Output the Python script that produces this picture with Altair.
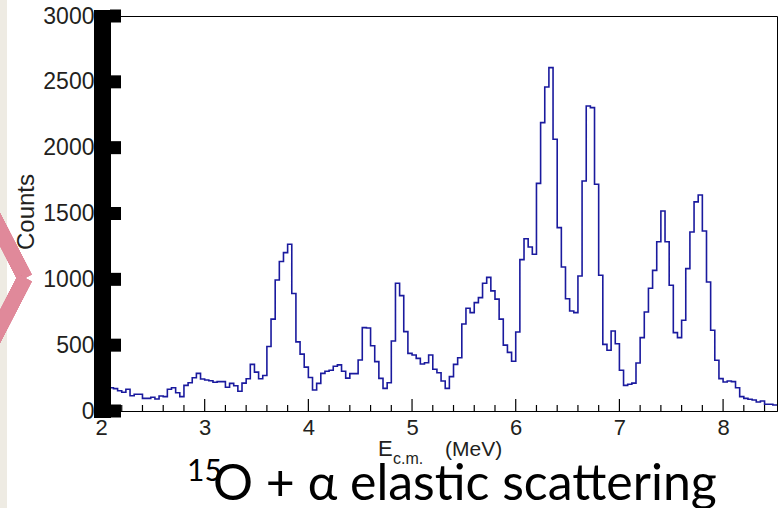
import altair as alt
import pandas as pd

# ---- data (0.04 MeV bins starting at 2.00 MeV) ----
bin_start = 2.0
bin_width = 0.04
counts = [
    170, 175, 177, 170, 154, 142, 165, 116, 127, 127,
    96, 96, 104, 91, 114, 109, 165, 177, 139, 109,
    195, 215, 253, 286, 243, 235, 230, 218, 223, 223,
    180, 210, 192, 150, 212, 245, 354, 295, 245, 270,
    490, 698, 995, 1136, 1203, 1266, 892, 525, 432, 333,
    255, 160, 210, 286, 302, 310, 340, 350, 302, 250,
    284, 284, 387, 633, 630, 496, 375, 248, 172, 215,
    532, 970, 876, 603, 438, 425, 400, 357, 367, 425,
    317, 291, 228, 172, 261, 354, 405, 661, 780, 747,
    823, 861, 970, 1015, 912, 850, 698, 500, 445, 378,
    600, 1150, 1308, 1246, 1190, 1729, 2190, 2461, 2608, 2064,
    1393, 1094, 853, 760, 747, 1025, 1747, 2317, 2304, 1722,
    1031, 506, 461, 608, 511, 309, 195, 203, 212, 365,
    557, 752, 932, 1068, 1286, 1519, 1286, 955, 595, 557,
    689, 1081, 1360, 1588, 1641, 1367, 980, 613, 385, 246,
    220, 228, 223, 177, 109, 96, 89, 84, 68, 76,
    51, 51, 46,
]
x_domain = [2.0, 8.52]
y_domain = [0, 3000]
x_major_ticks = [2, 3, 4, 5, 6, 7, 8]
x_minor_ticks = [2.2, 2.4, 2.6, 2.8, 3.2, 3.4, 3.6, 3.8, 4.2, 4.4, 4.6, 4.8,
                 5.2, 5.4, 5.6, 5.8, 6.2, 6.4, 6.6, 6.8, 7.2, 7.4, 7.6, 7.8,
                 8.2, 8.4]
y_ticks = [0, 500, 1000, 1500, 2000, 2500, 3000]

edges = [round(bin_start + i * bin_width, 4) for i in range(len(counts) + 1)]
hist = pd.DataFrame({"E": edges, "Counts": counts + [counts[-1]]})
major_df = pd.DataFrame({"E": x_major_ticks})
minor_df = pd.DataFrame({"E": x_minor_ticks})
yt_df = pd.DataFrame({"v": y_ticks})

W, H = 676, 395
TXT = "#231F20"
xs = alt.Scale(domain=x_domain, nice=False, zero=False)
ys = alt.Scale(domain=y_domain, nice=False)

line = alt.Chart(hist).mark_line(
    interpolate="step-after", color="#1A1A9E", strokeWidth=1.6, clip=True
).encode(
    x=alt.X("E:Q", scale=xs, axis=alt.Axis(
        values=x_major_ticks, ticks=False, grid=False, domain=True,
        domainColor="black", domainWidth=1, labelFont="Liberation Sans",
        labelFontSize=22, labelColor=TXT, labelPadding=6, title=None,
        labelFlush=False, format="d")),
    y=alt.Y("Counts:Q", scale=ys, axis=alt.Axis(
        values=y_ticks, ticks=False, grid=False, domain=False,
        labelFont="Liberation Sans", labelFontSize=23, labelColor=TXT,
        labelPadding=7, title=None, labelFlush=False, format="d")),
)

major = alt.Chart(major_df).mark_rule(color="black", strokeWidth=1.2).encode(
    x=alt.X("E:Q", scale=xs), y=alt.value(H), y2=alt.value(H - 12))
minor = alt.Chart(minor_df).mark_rule(color="black", strokeWidth=1.2).encode(
    x=alt.X("E:Q", scale=xs), y=alt.value(H), y2=alt.value(H - 6))

# slide decorations on the left
beige = alt.Chart(major_df).mark_rect(color="#EEEBE3").encode(
    x=alt.value(-101), x2=alt.value(-94), y=alt.value(-16), y2=alt.value(492))
chev1 = alt.Chart(major_df).mark_rule(color="#E0899A", strokeWidth=15, strokeCap="butt").encode(
    x=alt.value(-110), y=alt.value(196), x2=alt.value(-76), y2=alt.value(262))
chev2 = alt.Chart(major_df).mark_rule(color="#E0899A", strokeWidth=15, strokeCap="butt").encode(
    x=alt.value(-110), y=alt.value(328), x2=alt.value(-76), y2=alt.value(262))

# thick y axis bar with square ticks
ybar = alt.Chart(major_df).mark_rect(color="black").encode(
    x=alt.value(-7), x2=alt.value(10), y=alt.value(-6), y2=alt.value(402))
yticks = alt.Chart(yt_df).mark_rule(color="black", strokeWidth=13, strokeCap="butt").encode(
    y=alt.Y("v:Q", scale=ys), x=alt.value(9), x2=alt.value(20))

def txt(s, x, y, size, font="Liberation Sans", align="left", angle=None, baseline="alphabetic"):
    kw = dict(text=s, fontSize=size, font=font, color=TXT if font == "Liberation Sans" else "black",
              align=align, baseline=baseline)
    if angle is not None:
        kw["angle"] = angle
    return alt.Chart(major_df.head(1)).mark_text(**kw).encode(x=alt.value(x), y=alt.value(y))

counts_lbl = txt("Counts", -74, 196, 24, align="center", angle=270, baseline="middle")
e_lbl = txt("E", 277, 440, 22)
cm_lbl = txt("c.m.", 292, 448, 16)
mev_lbl = txt("(MeV)", 344, 440, 21)
t_sup = txt("15", 86, 465, 30, font="Lato")
t_main = txt("O + α elastic scattering", 112, 484, 50, font="Lato")

chart = alt.layer(
    beige, chev1, chev2, line, major, minor, ybar, yticks,
    counts_lbl, e_lbl, cm_lbl, mev_lbl, t_sup, t_main
).properties(
    width=W, height=H, autosize="none",
    padding={"left": 101, "top": 16, "right": 2, "bottom": 97},
    background="white",
).configure_view(stroke="black", strokeWidth=1)

chart.save("out.html", embed_options={"renderer": "svg", "actions": False})
